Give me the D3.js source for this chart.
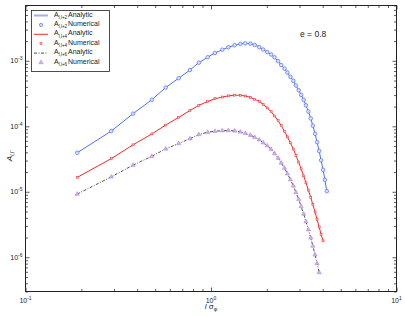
<!DOCTYPE html>
<html>
<head>
<meta charset="utf-8">
<script src="https://d3js.org/d3.v7.min.js"></script>
<style>
  body { margin: 0; background: #fff; }
  text { font-family: "Liberation Sans", Arial, sans-serif; }
</style>
</head>
<body>
<div id="chart"></div>
<script>
// l*sigma values of the sampled points
let lSigma = [0.19,0.29,0.38,0.48,0.57,0.67,0.77,0.86,0.96,1.05,1.15,1.24,1.34,1.44,1.53,1.63,1.72,1.82,1.91,2.01,
              2.11,2.20,2.30,2.39,2.49,2.58,2.68,2.78,2.87,2.97,3.06,3.16,3.25,3.35,3.45,3.54,3.64,3.73,3.83,3.92,
              4.02,4.11,4.21];

let aL2 = [3.94e-5,8.47e-5,1.56e-4,2.55e-4,3.91e-4,5.43e-4,7.24e-4,9.38e-4,1.135e-3,1.318e-3,1.479e-3,1.61e-3,1.73e-3,
           1.81e-3,1.85e-3,1.83e-3,1.75e-3,1.62e-3,1.49e-3,1.36e-3,1.25e-3,1.13e-3,9.89e-4,8.65e-4,7.59e-4,6.61e-4,
           5.69e-4,4.95e-4,4.19e-4,3.55e-4,3.02e-4,2.54e-4,2.09e-4,1.68e-4,1.32e-4,1.02e-4,7.69e-5,5.73e-5,4.20e-5,
           3.03e-5,2.16e-5,1.52e-5,1.02e-5];

let aL4 = [1.66e-5,3.21e-5,5.21e-5,7.66e-5,1.045e-4,1.37e-4,1.74e-4,2.09e-4,2.39e-4,2.64e-4,2.80e-4,2.92e-4,2.99e-4,
           2.98e-4,2.90e-4,2.77e-4,2.59e-4,2.39e-4,2.16e-4,1.91e-4,1.67e-4,1.44e-4,1.22e-4,1.02e-4,8.43e-5,6.90e-5,
           5.60e-5,4.50e-5,3.59e-5,2.84e-5,2.24e-5,1.75e-5,1.37e-5,1.06e-5,8.22e-6,6.35e-6,4.90e-6,3.78e-6,2.90e-6,
           2.23e-6,1.78e-6];

let aL6 = [9.23e-6,1.69e-5,2.55e-5,3.49e-5,4.52e-5,5.46e-5,6.47e-5,7.48e-5,8.13e-5,8.41e-5,8.57e-5,8.61e-5,8.51e-5,
           8.22e-5,7.80e-5,7.33e-5,6.79e-5,6.21e-5,5.62e-5,5.04e-5,4.45e-5,3.83e-5,3.27e-5,2.76e-5,2.30e-5,1.89e-5,
           1.53e-5,1.23e-5,9.79e-6,7.69e-6,5.97e-6,4.59e-6,3.50e-6,2.64e-6,1.98e-6,1.48e-6,1.09e-6,8.02e-7,5.85e-7];

let xMajor = [0.1, 1, 10];
let xMajorExp = ["-1", "0", "1"];
let yMajor = [1e-6, 1e-5, 1e-4, 1e-3];
let yMajorExp = ["-6", "-5", "-4", "-3"];

let legendRows = [
  {sub: "l,l+2", label: "Analytic"},
  {sub: "l,l+2", label: "Numerical"},
  {sub: "l,l+4", label: "Analytic"},
  {sub: "l,l+4", label: "Numerical"},
  {sub: "l,l+6", label: "Analytic"},
  {sub: "l,l+6", label: "Numerical"}
];

let W = 405, H = 316;
let pLeft = 25.5, pRight = 396.5, pTop = 5.5, pBottom = 291.5;

let svg = d3.select("#chart").append("svg")
    .attr("width", W).attr("height", H);

let x = d3.scaleLog().domain([0.1, 10]).range([pLeft, pRight]);
let y = d3.scaleLog().domain([3e-7, 7e-3]).range([pBottom, pTop]);

function isMajor(v) {
    let e = Math.log10(v);
    return Math.abs(e - Math.round(e)) < 1e-9;
}

// ticks on all four sides, pointing inward
function tickAxis(axis, tr) {
    let g = svg.append("g").attr("transform", tr)
        .call(axis.tickSizeInner(0).tickSizeOuter(0).tickFormat(""));
    g.select(".domain").remove();
    g.selectAll(".tick line")
        .attr("stroke", "#333").attr("stroke-width", 0.8);
    return g;
}
let gb = tickAxis(d3.axisBottom(x).tickValues(x.ticks()), "translate(0," + pBottom + ")");
gb.selectAll(".tick line").attr("y2", d => isMajor(d) ? -4 : -2.5);
let gt = tickAxis(d3.axisTop(x).tickValues(x.ticks()), "translate(0," + pTop + ")");
gt.selectAll(".tick line").attr("y2", d => isMajor(d) ? 4 : 2.5);
let gl = tickAxis(d3.axisLeft(y).tickValues(y.ticks()), "translate(" + pLeft + ",0)");
gl.selectAll(".tick line").attr("x2", d => isMajor(d) ? 4 : 2.5);
let gr = tickAxis(d3.axisRight(y).tickValues(y.ticks()), "translate(" + pRight + ",0)");
gr.selectAll(".tick line").attr("x2", d => isMajor(d) ? -4 : -2.5);

// frame
svg.append("rect")
    .attr("x", pLeft).attr("y", pTop)
    .attr("width", pRight - pLeft).attr("height", pBottom - pTop)
    .attr("fill", "none").attr("stroke", "#222").attr("stroke-width", 1);

// tick labels
xMajor.forEach(function(v, i) {
    let t = svg.append("text")
        .attr("x", x(v)).attr("y", pBottom + 11)
        .attr("text-anchor", "middle")
        .attr("font-size", "7px").attr("fill", "#222");
    t.append("tspan").text("10");
    t.append("tspan").attr("dy", -3).attr("font-size", "5px").text(xMajorExp[i]);
});
yMajor.forEach(function(v, i) {
    let t = svg.append("text")
        .attr("x", pLeft - 3).attr("y", y(v) + 2.5)
        .attr("text-anchor", "end")
        .attr("font-size", "7px").attr("fill", "#222");
    t.append("tspan").text("10");
    t.append("tspan").attr("dy", -3).attr("font-size", "5px").text(yMajorExp[i]);
});

// axis labels
let xl = svg.append("text")
    .attr("x", x(1)).attr("y", 309)
    .attr("text-anchor", "middle")
    .attr("font-size", "8px").attr("fill", "#222");
xl.append("tspan").attr("font-style", "italic").text("l ");
xl.append("tspan").text("σ");
xl.append("tspan").attr("dy", 2).attr("font-size", "5.5px").text("φ");

let yl = svg.append("text")
    .attr("transform", "translate(12," + 156 + ") rotate(-90)")
    .attr("text-anchor", "middle")
    .attr("font-size", "8px").attr("fill", "#222");
yl.append("tspan").attr("font-style", "italic").text("A");
yl.append("tspan").attr("dy", 2).attr("font-size", "5.5px").attr("font-style", "italic").text("l,l'");

svg.append("text")
    .attr("x", 300).attr("y", 37)
    .attr("font-family", "Liberation Serif, Times New Roman, serif")
    .attr("font-size", "8.5px").attr("fill", "#222")
    .text("e = 0.8");

// series
let s2 = lSigma.slice(0, aL2.length).map((v, i) => [v, aL2[i]]);
let s4 = lSigma.slice(0, aL4.length).map((v, i) => [v, aL4[i]]);
let s6 = lSigma.slice(0, aL6.length).map((v, i) => [v, aL6[i]]);

let line = d3.line().x(d => x(d[0])).y(d => y(d[1]));

let blue = "#5070f2", red = "#f22a2a";
let triFill = "#d2b0f2", triStroke = "#9a6ad0";

svg.append("path").datum(s2).attr("d", line)
    .attr("fill", "none").attr("stroke", blue).attr("stroke-width", 1);
svg.append("path").datum(s4).attr("d", line)
    .attr("fill", "none").attr("stroke", red).attr("stroke-width", 1);
svg.append("path").datum(s6).attr("d", line)
    .attr("fill", "none").attr("stroke", "#222").attr("stroke-width", 0.8)
    .attr("stroke-dasharray", "3,1.5,1,1.5");

svg.append("g").selectAll("circle").data(s2).enter().append("circle")
    .attr("cx", d => x(d[0])).attr("cy", d => y(d[1])).attr("r", 1.8)
    .attr("fill", "#dbe2fd").attr("stroke", blue).attr("stroke-width", 0.7);
svg.append("g").selectAll("rect").data(s4).enter().append("rect")
    .attr("x", d => x(d[0]) - 1).attr("y", d => y(d[1]) - 1)
    .attr("width", 2).attr("height", 2)
    .attr("fill", "#fcc0c0").attr("stroke", red).attr("stroke-width", 0.5);
let tri = d3.symbol().type(d3.symbolTriangle).size(8);
svg.append("g").selectAll("path").data(s6).enter().append("path")
    .attr("d", tri)
    .attr("transform", d => "translate(" + x(d[0]) + "," + y(d[1]) + ")")
    .attr("fill", triFill).attr("stroke", triStroke).attr("stroke-width", 0.4);

// legend
let lg = svg.append("g");
lg.append("rect").attr("x", 31.5).attr("y", 10.5).attr("width", 78).attr("height", 61)
    .attr("fill", "#fff").attr("stroke", "#222").attr("stroke-width", 0.8);
legendRows.forEach(function(r, i) {
    let cy = 15.5 + i * 9.4;
    if (i === 0) lg.append("line").attr("x1", 34).attr("x2", 48).attr("y1", cy).attr("y2", cy)
        .attr("stroke", "#9fb0f4").attr("stroke-width", 2);
    if (i === 1) lg.append("circle").attr("cx", 41).attr("cy", cy).attr("r", 1.6)
        .attr("fill", "#dbe2fd").attr("stroke", blue).attr("stroke-width", 0.7);
    if (i === 2) lg.append("line").attr("x1", 34).attr("x2", 48).attr("y1", cy).attr("y2", cy)
        .attr("stroke", red).attr("stroke-width", 1);
    if (i === 3) lg.append("rect").attr("x", 40).attr("y", cy - 1).attr("width", 2).attr("height", 2)
        .attr("fill", "#fcc0c0").attr("stroke", red).attr("stroke-width", 0.5);
    if (i === 4) lg.append("line").attr("x1", 34).attr("x2", 48).attr("y1", cy).attr("y2", cy)
        .attr("stroke", "#222").attr("stroke-width", 0.8).attr("stroke-dasharray", "3,1.5,1,1.5");
    if (i === 5) lg.append("path").attr("d", tri).attr("transform", "translate(41," + cy + ")")
        .attr("fill", triFill).attr("stroke", triStroke).attr("stroke-width", 0.4);
    let t = lg.append("text").attr("x", 54).attr("y", cy + 1)
        .attr("font-size", "7px").attr("fill", "#222");
    t.append("tspan").text("A");
    t.append("tspan").attr("dy", 2.2).attr("font-size", "4.5px").text(r.sub);
    t.append("tspan").attr("dy", -2.2).attr("dx", 1).text(r.label);
});
</script>
</body>
</html>
